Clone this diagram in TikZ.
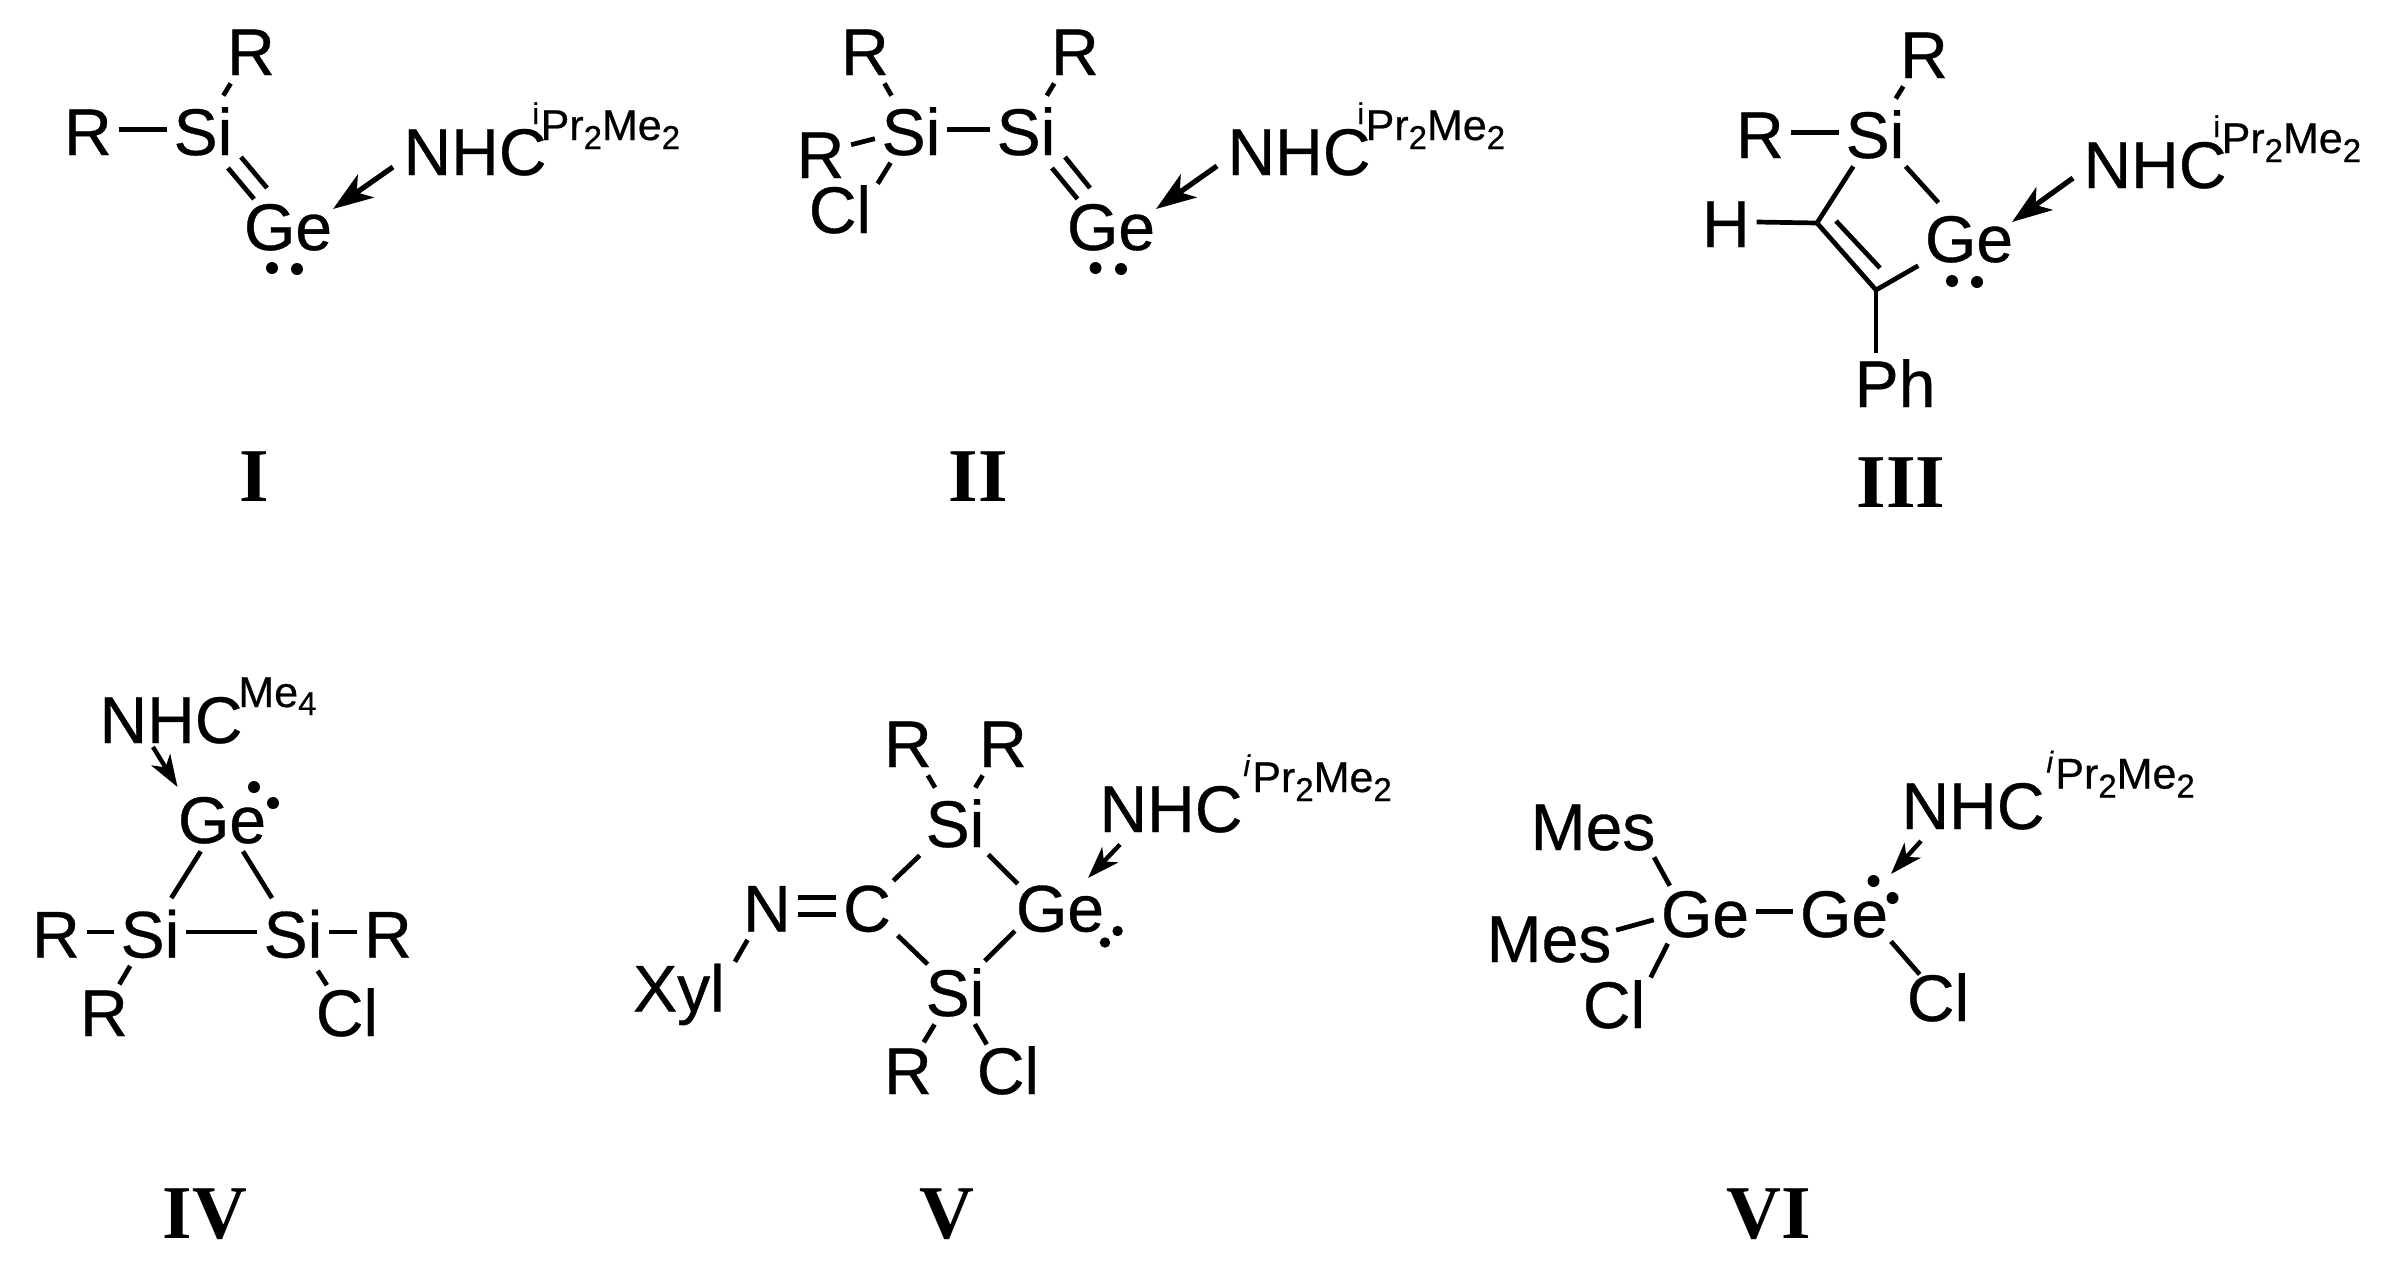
\documentclass[tikz,border=0pt]{standalone}
\usepackage{fontspec}
\setmainfont{Liberation Sans}[FakeBold=0.5]
\newfontfamily\labfont{Liberation Serif}
\usetikzlibrary{arrows.meta}
\newcommand\iprme[1]{\raisebox{8pt}{\fontsize{15}{15}\selectfont #1}\hspace{0.8pt}Pr\raisebox{-4.5pt}{\fontsize{16.5}{16.5}\selectfont 2}Me\raisebox{-4.5pt}{\fontsize{16.5}{16.5}\selectfont 2}}
\tikzset{
  atom/.style={font=\fontsize{33}{33}\selectfont, inner xsep=3.2pt, inner ysep=4pt, text height=25.5pt, text depth=0pt, anchor=base},
  supnode/.style={font=\fontsize{21.5}{21.5}\selectfont, inner sep=0pt, anchor=base west},
  compound/.style={font=\labfont\bfseries\fontsize{38}{38}\selectfont, inner sep=0pt, anchor=base},
  bond/.style={line width=2.35pt},
  dn/.style={shorten >=-4.5pt},
  datL/.style={line width=2.6pt, -{Stealth[length=20pt,width=14pt,inset=5.5pt]}},
  datS/.style={line width=2.2pt, -{Stealth[length=16pt,width=11pt,inset=4.5pt]}},
}
\begin{document}
\begin{tikzpicture}[x=0.5pt,y=-0.5pt]
\path[fill=white,use as bounding box] (0,0) rectangle (2384,1275);
% ---------- I
\node[atom] (Ra) at (251,75) {R};
\node[atom] (Rb) at (88,155) {R};
\node[atom] (Sia) at (203,155) {Si};
\node[atom] (Gea) at (288,250) {Ge};
\node[atom] (NHCa) at (475,175) {NHC};
\node[supnode] (supa) at (532,140) {\iprme{i}};
\node[compound] (labI) at (254,501) {I};
\draw[bond] (Sia) -- (Ra);
\draw[bond] (Rb) -- (Sia);
\draw[bond] ([shift={(38,27.5)}]Sia.center) -- ([shift={(-21,-36.5)}]Gea.center);
\draw[bond] ([shift={(25,38.5)}]Sia.center) -- ([shift={(-34,-25.5)}]Gea.center);
\draw[datL] ([shift={(-82,17.5)}]NHCa.center) -- ([shift={(45,-15.5)}]Gea.center);
\fill (272,268) circle[radius=3pt] (297,269) circle[radius=3pt];
% ---------- II
\node[atom] (Rc) at (865,75) {R};
\node[atom] (Rd) at (1075,75) {R};
\node[atom] (Sib) at (911,155) {Si};
\node[atom] (Sic) at (1026,155) {Si};
\node[atom] (Re) at (820.5,178) {R};
\node[atom] (Cla) at (840,233) {Cl};
\node[atom] (Geb) at (1111,250) {Ge};
\node[atom] (NHCb) at (1299,175) {NHC};
\node[supnode] (supb) at (1357,140) {\iprme{i}};
\node[compound] (labII) at (978.5,501) {II};
\draw[bond] (Sib) -- (Rc);
\draw[bond] (Sic) -- (Rd);
\draw[bond] (Sib) -- (Re);
\draw[bond] (Sib) -- (Sic);
\draw[bond,shorten <=19.5pt,shorten >=14pt] (Sib.center) -- ([xshift=11.5pt]Cla.center);
\draw[bond] ([shift={(39,27.5)}]Sic.center) -- ([shift={(-21,-36.5)}]Geb.center);
\draw[bond] ([shift={(26,38.5)}]Sic.center) -- ([shift={(-33.5,-25.5)}]Geb.center);
\draw[datL] ([shift={(-82,16.5)}]NHCb.center) -- ([shift={(45,-15.5)}]Geb.center);
\fill (1095.5,268) circle[radius=3pt] (1121,269) circle[radius=3pt];
% ---------- III
\node[atom] (Rf) at (1924,78) {R};
\node[atom] (Rg) at (1760,158) {R};
\node[atom] (Sid) at (1875,158) {Si};
\node[atom] (H) at (1726,247) {H};
\node[atom] (Gec) at (1969,262) {Ge};
\node[atom] (NHCc) at (2155,188) {NHC};
\node[atom] (Ph) at (1895,407) {Ph};
\node[supnode] (supc) at (2213,153) {\iprme{i}};
\node[compound] (labIII) at (1901,507) {III};
\coordinate (Ca) at (1817,223);
\coordinate (Cb) at (1876,290);
\draw[bond] (Sid) -- (Rf);
\draw[bond] (Rg) -- (Sid);
\draw[bond] (Sid) -- (Ca);
\draw[bond] (Sid) -- (Gec);
\draw[bond] (H) -- (Ca);
\draw[bond] (Ca) -- (Cb);
\draw[bond] ([shift={(19,-2)}]Ca) -- ([shift={(4,-22)}]Cb);
\draw[bond] (Cb) -- (Gec);
\draw[bond,shorten >=14.25pt] (Cb) -- ([xshift=-9.5pt]Ph.center);
\draw[datL] ([shift={(-82,15.5)}]NHCc.center) -- ([shift={(43,-14.5)}]Gec.center);
\fill (1952,281) circle[radius=3pt] (1977,282) circle[radius=3pt];
% ---------- IV
\node[atom] (NHCd) at (171,743) {NHC};
\node[supnode] (supd) at (238,707) {Me\raisebox{-4pt}{\fontsize{16.5}{16.5}\selectfont 4}};
\node[atom] (Ged) at (222,843) {Ge};
\node[atom] (Sie) at (150,957.5) {Si};
\node[atom] (Sif) at (293,957.5) {Si};
\node[atom] (Rh) at (56,957.5) {R};
\node[atom] (Ri) at (388,957.5) {R};
\node[atom] (Rj) at (104,1036) {R};
\node[atom] (Clb) at (347,1036) {Cl};
\node[compound] (labIV) at (205,1238) {IV};
\draw[bond] (Ged) -- (Sie);
\draw[bond] (Ged) -- (Sif);
\draw[bond] (Sie) -- (Sif);
\draw[bond] (Rh) -- (Sie);
\draw[bond] (Sif) -- (Ri);
\draw[bond,dn] (Sie) -- (Rj);
\draw[bond,shorten <=23pt,shorten >=15pt] (Sif.center) -- ([xshift=-2pt]Clb.center);
\draw[datS] ([shift={(-18,29.5)}]NHCd.center) -- ([shift={(-44.5,-30.5)}]Ged.center);
\fill (254,787) circle[radius=3pt] (273,803) circle[radius=3pt];
% ---------- V
\node[atom] (Rk) at (908,767) {R};
\node[atom] (Rl) at (1003,767) {R};
\node[atom] (Sig) at (955,847) {Si};
\node[atom] (C) at (867,931.5) {C};
\node[atom] (N) at (767,931.5) {N};
\node[atom] (Gee) at (1060,931.5) {Ge};
\node[atom] (Sih) at (955,1016) {Si};
\node[atom] (Xyl) at (679,1011.5) {Xyl};
\node[atom] (Rm) at (908,1094) {R};
\node[atom] (Clc) at (1008,1094) {Cl};
\node[atom] (NHCe) at (1171,832) {NHC};
\node[supnode] (supe) at (1243,792) {\iprme{\textit{i}}};
\node[compound] (labV) at (947,1238) {V};
\draw[bond] (Sig) -- (Rk);
\draw[bond] (Sig) -- (Rl);
\draw[bond,shorten >=-3pt] (Sig) -- (C);
\draw[bond,shorten <=23.5pt,shorten >=15.7pt] (Sig.center) -- ([xshift=-10pt]Gee.center);
\draw[bond,shorten >=-5.5pt] (C) -- (Sih);
\draw[bond,shorten <=21pt,shorten >=17.7pt] (Sih.center) -- ([xshift=-10pt]Gee.center);
\draw[bond] ([yshift=4.25pt]N.east) -- ([yshift=4.25pt]C.west);
\draw[bond] ([yshift=-4.25pt]N.east) -- ([yshift=-4.25pt]C.west);
\draw[bond,shorten >=14pt] (N) -- ([xshift=21pt]Xyl.center);
\draw[bond,dn] (Sih) -- (Rm);
\draw[bond,shorten <=19.5pt,shorten >=14pt] (Sih.center) -- ([xshift=-3.5pt]Clc.center);
\draw[datS] ([shift={(-51,38)}]NHCe.center) -- ([shift={(28,-28)}]Gee.center);
\fill (1105,942.5) circle[radius=2.6pt] (1117.6,931) circle[radius=2.6pt];
% ---------- VI
\node[atom] (Mesa) at (1593,850) {Mes};
\node[atom] (Mesb) at (1549,962) {Mes};
\node[atom] (Gef) at (1705,937) {Ge};
\node[atom] (Geg) at (1844,937) {Ge};
\node[atom] (Cld) at (1614,1028) {Cl};
\node[atom] (Cle) at (1938,1021) {Cl};
\node[atom] (NHCf) at (1973,829) {NHC};
\node[supnode] (supf) at (2046,788.5) {\iprme{\textit{i}}};
\node[compound] (labVI) at (1769,1238) {VI};
\draw[bond,shorten <=18.7pt,shorten >=14.7pt] ([xshift=21.5pt]Mesa.center) -- ([xshift=-10.5pt]Gef.center);
\draw[bond,shorten <=12pt,shorten >=15.7pt] ([xshift=22pt]Mesb.center) -- ([xshift=-10.5pt]Gef.center);
\draw[bond,shorten <=18pt,shorten >=14pt] ([xshift=-10.5pt]Gef.center) -- ([xshift=12pt]Cld.center);
\draw[bond] (Gef) -- (Geg);
\draw[bond,shorten <=19.8pt,shorten >=14pt] ([xshift=10.5pt]Geg.center) -- (Cle.center);
\draw[datS] ([shift={(-52,37.5)}]NHCf.center) -- ([shift={(47,-37.5)}]Geg.center);
\fill (1873.5,881) circle[radius=3pt] (1892.5,898) circle[radius=3pt];
\end{tikzpicture}
\end{document}
